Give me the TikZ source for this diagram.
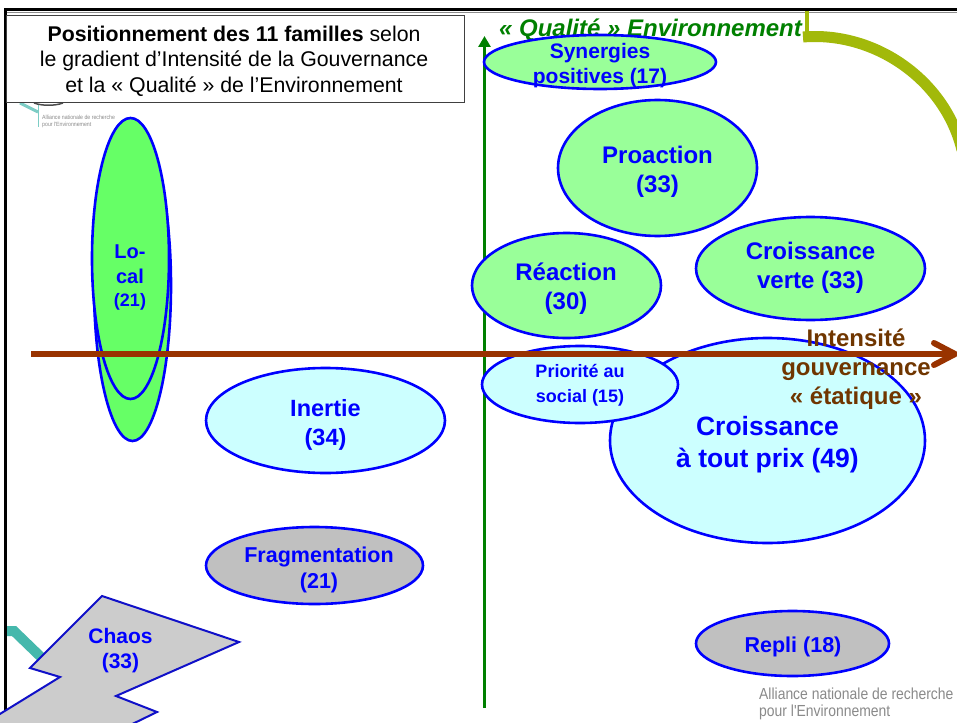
\documentclass[tikz,border=0pt]{standalone}
\usepackage{fontspec}
\usepackage{xcolor}
\usetikzlibrary{shapes.geometric,arrows.meta}
\setmainfont{Liberation Sans}
\newfontfamily\logofont[FakeStretch=0.87]{Liberation Sans}
\definecolor{trait}{HTML}{0000FF}
\definecolor{traitchaos}{HTML}{1010C8}
\definecolor{vertclair}{HTML}{99FF99}
\definecolor{vertlocal}{HTML}{66FF66}
\definecolor{cyanclair}{HTML}{CCFFFF}
\definecolor{grisfam}{HTML}{C0C0C0}
\definecolor{grischaos}{HTML}{CCCCCC}
\definecolor{axeq}{HTML}{008000}
\definecolor{axei}{HTML}{993300}
\definecolor{texti}{HTML}{703600}
\definecolor{lime}{HTML}{A2B90A}
\definecolor{teal2}{HTML}{45B8AC}
\definecolor{logogris}{HTML}{8A8A8A}

\begin{document}
\begin{tikzpicture}[x=1pt,y=-1pt]
        \tikzset{famille/.style={draw=trait,line width=2.6pt,ellipse,inner sep=0pt},
            nom/.style 2 args={text=trait,align=center,inner sep=0pt,font=\bfseries\fontsize{#1}{#2}\selectfont},
            logotext/.style={text=logogris,anchor=west,align=left,inner sep=0pt}}
        \clip (0,0) rectangle (957,722);
        \fill[white] (0,0) rectangle (957,722);

        \draw[black!45,line width=1pt] (7,12.5) -- (957,12.5);
        \draw[black,line width=3pt] (5.5,722) -- (5.5,9.5) -- (957,9.5);
        \draw[lime,line width=4pt] (806.5,11) -- (806.5,36);
        \draw[lime,line width=11pt] (803,37) .. controls (875,31) and (945,80) .. (962,150);
        \draw[teal2,line width=10pt] (7,631) -- (14,631) -- (44,660);
        \draw[teal2!70,line width=1pt] (38,105) -- (38,127);
        \draw[teal2!70,line width=3pt] (20,103) -- (38,112);
        \draw[black!70,line width=1.5pt] (34,103) .. controls (42,106) and (55,106) .. (63,103);
        \node[logotext,font=\logofont\fontsize{6}{6.5}\selectfont] (logohaut) at (42,121.5) {Alliance nationale de recherche\\pour l'Environnement};
        \node[logotext,font=\logofont\fontsize{16}{17}\selectfont] (logobas) at (759,704) {Alliance nationale de recherche\\pour l'Environnement};

        \coordinate (qbas) at (484.5,708);
        \coordinate (qhaut) at (484.5,36);
        \draw[axeq,line width=3.5pt,-{Triangle[length=11pt,width=12pt]}] (qbas) -- (qhaut);
        \node[text=axeq,inner sep=0pt,font=\bfseries\itshape\fontsize{24}{28}\selectfont] (qualite) at (650.5,30) {« Qualité » Environnement};

        \node[famille,fill=cyanclair,minimum width=315pt,minimum height=205pt] (croissance) at (767.5,440.5) {};
        \node[famille,fill=vertclair,minimum width=232pt,minimum height=54pt] (synergies) at (600,62) {};
        \node[famille,fill=vertclair,minimum width=199pt,minimum height=136pt] (proaction) at (657.5,168) {};
        \node[famille,fill=vertclair,minimum width=229pt,minimum height=103pt] (verte) at (810.5,268.5) {};
        \node[famille,fill=vertclair,minimum width=189pt,minimum height=105pt] (reaction) at (566.5,285.5) {};
        \node[famille,fill=cyanclair,minimum width=196pt,minimum height=77pt] (social) at (580,384.5) {};
        \node[famille,fill=cyanclair,minimum width=239pt,minimum height=105pt] (inertie) at (325.5,420.5) {};
        \node[famille,fill=grisfam,minimum width=217pt,minimum height=77pt] (fragmentation) at (314.5,565.5) {};
        \node[famille,fill=grisfam,minimum width=193pt,minimum height=65pt] (repli) at (792.5,643.5) {};
        \node[famille,fill=vertlocal,minimum width=77pt,minimum height=311pt] (localbas) at (132.5,285.5) {};
        \node[famille,fill=vertlocal,minimum width=77pt,minimum height=281pt] (localhaut) at (130.5,258.5) {};

        \draw[traitchaos,line width=2pt,fill=grischaos] (102,596) -- (239,642) -- (116,696) -- (157,712)
            -- (120,730) -- (-5,730) -- (-5,717) -- (60,677) -- (30,668) -- cycle;

        \coordinate (igauche) at (31,354);
        \coordinate (idroite) at (955,354);
        \coordinate (ihaut) at (934,343);
        \coordinate (ibas) at (934,365);
        \draw[axei,line width=6pt] (igauche) -- (idroite);
        \draw[axei,line width=6pt,line cap=round,line join=miter] (ihaut) -- (idroite) -- (ibas);

        \node[draw=black!75,fill=white,line width=0.8pt,minimum width=458pt,minimum height=87pt,inner sep=0pt] (cadre) at (235,58.5) {};
        \node[align=center,inner sep=0pt,font=\fontsize{21.3}{25.5}\selectfont] (titre) at (234,61) {\textbf{Positionnement des 11 familles} selon\\le gradient d'Intensité de la Gouvernance\\et la « Qualité » de l'Environnement};

        \node[text=texti,align=center,inner sep=0pt,font=\bfseries\fontsize{24}{29}\selectfont] (intensite) at (856,369) {Intensité\\gouvernance\\« étatique »};

        \node[nom={21}{25}] (tsynergies) at (600,65.5) {Synergies\\positives (17)};
        \node[nom={24}{29}] (tproaction) at (657.5,171.5) {Proaction\\(33)};
        \node[nom={24}{29}] (tverte) at (810.5,268) {Croissance\\verte (33)};
        \node[nom={24}{29}] (treaction) at (566,289) {Réaction\\(30)};
        \node[nom={18}{25}] (tsocial) at (580,385) {Priorité au\\social (15)};
        \node[nom={26.5}{32}] (tcroissance) at (767.5,445) {Croissance\\à tout prix (49)};
        \node[nom={23.5}{29}] (tinertie) at (325.5,425) {Inertie\\(34)};
        \node[nom={21.5}{26}] (tfragmentation) at (319,570) {Fragmentation\\(21)};
        \node[nom={21.5}{24}] (trepli) at (793,647) {Repli (18)};
        \node[nom={21}{25}] (tchaos) at (120.5,651) {Chaos\\(33)};
        \node[nom={20}{25}] (tlocal) at (130,264) {Lo-\\cal};
        \node[nom={18}{20}] (tvingtetun) at (130,302) {(21)};
    \end{tikzpicture}
\end{document}
